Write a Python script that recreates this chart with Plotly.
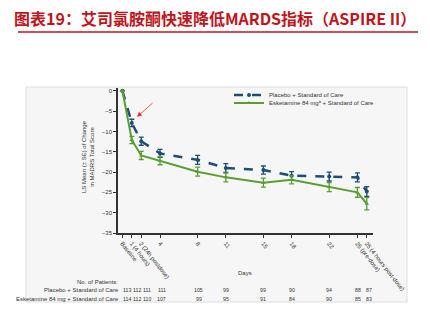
import plotly.graph_objects as go

# ---- data ----
day_pos = [0, 1, 2, 4, 8, 11, 15, 18, 22, 25, 26]
tick_labels = ["Baseline", "1 (4 hours)", "2 (24h postdose)", "4", "8", "11", "15", "18",
               "22", "25 (pre-dose)", "25 (4 hours post-dose)"]
placebo = [0, -7.9, -12.4, -15.4, -17.0, -19.0, -19.5, -20.9, -21.1, -21.3, -24.8]
placebo_se = [0, 0.9, 1.0, 1.0, 1.1, 1.1, 1.0, 1.0, 1.1, 1.1, 1.2]
esket = [0, -12.1, -15.9, -17.2, -19.9, -21.3, -22.6, -21.9, -23.7, -25.0, -27.8]
esket_se = [0, 0.9, 1.0, 1.0, 1.1, 1.1, 1.1, 1.0, 1.1, 1.2, 1.5]
n_placebo = [113, 112, 111, 111, 105, 99, 99, 90, 94, 88, 87]
n_esket = [114, 112, 110, 107, 99, 95, 91, 84, 90, 85, 83]
y_ticks = [0, -5, -10, -15, -20, -25, -30, -35]

title_text = "图表19：艾司氯胺酮快速降低MARDS指标（ASPIRE II）"
blue = "#1d4e79"
green = "#5a9e32"
red = "#c0151d"
txt = "#333333"
FONT = "Liberation Sans"

W, H = 430, 332
L, R, T, B = 118, 57, 88, 99
pw, ph = W - L - R, H - T - B


def px(x):
    return (x - L) / pw


def py(y):
    return (H - B - y) / ph


fig = go.Figure()
fig.add_trace(go.Scatter(
    x=day_pos, y=placebo, name="Placebo + Standard of Care", mode="lines+markers",
    line=dict(color=blue, width=2.5, dash="dash"),
    marker=dict(color=blue, size=4, symbol="circle"),
    error_y=dict(type="data", array=placebo_se, color=blue, thickness=1.3, width=2.5),
    legend="legend",
))
fig.add_trace(go.Scatter(
    x=day_pos, y=esket, name="Esketamine 84 mg\u1d43 + Standard of Care", mode="lines+markers",
    line=dict(color=green, width=2),
    marker=dict(color=green, size=4, symbol="triangle-up"),
    error_y=dict(type="data", array=esket_se, color=green, thickness=1.3, width=2.5),
    legend="legend2",
))

# panel background
fig.add_shape(type="rect", xref="paper", yref="paper", x0=px(26), x1=px(407),
              y0=py(302), y1=py(87), fillcolor="#f6f6f6",
              line=dict(color="#dedede", width=1), layer="below")
# title underline
fig.add_shape(type="line", xref="paper", yref="paper", x0=px(18), x1=px(418),
              y0=py(32), y1=py(32), line=dict(color=red, width=1.5))


def note(text, x, y, size=6, xanchor="center", **kw):
    return dict(text=text, xref="paper", yref="paper", x=px(x), y=py(y),
                xanchor=xanchor, yanchor="middle", showarrow=False,
                font=dict(family=FONT, size=size, color=txt), **kw)


ann = []
ann.append(dict(text="<b>" + title_text + "</b>", xref="paper", yref="paper",
                x=px(215), y=py(18), xanchor="center", yanchor="middle", showarrow=False,
                font=dict(family="Noto Sans CJK SC", size=16, color=red)))
ann.append(note("LS Mean (± SE) of Change<br>in MADRS Total Score", 88, 157, textangle=-90))
ann.append(note("Days", 245, 273))
ann.append(note("No. of Patients:", 97, 282))
ann.append(note("Placebo + Standard of Care", 121, 290, xanchor="right"))
ann.append(note("Esketamine 84 mg + Standard of Care", 121, 299, xanchor="right"))
shifts = [4.6, 5.2, 5.8, 1.5, 1, 0, 0, 0, 0, 1, 2]
for d, a, b, s in zip(day_pos, n_placebo, n_esket, shifts):
    for val, yy in ((a, 290), (b, 299)):
        ann.append(dict(text=str(val), x=d, xref="x", yref="paper", y=py(yy), xshift=s,
                        xanchor="center", yanchor="middle", showarrow=False,
                        font=dict(family=FONT, size=5.2, color=txt)))
# red arrow
ann.append(dict(text="", x=1.55, y=-6.4, xref="x", yref="y", showarrow=True,
                ax=17, ay=-15, arrowcolor="#e8332c", arrowwidth=0.8, arrowhead=2,
                arrowsize=1.2))

leg_common = dict(xanchor="left", yanchor="middle", bgcolor="rgba(0,0,0,0)",
                  font=dict(family=FONT, size=6, color=txt), itemwidth=30,
                  borderwidth=0)
fig.update_layout(
    width=W, height=H, margin=dict(l=L, r=R, t=T, b=B),
    paper_bgcolor="white", plot_bgcolor="rgba(0,0,0,0)",
    annotations=ann,
    showlegend=True,
    legend=dict(x=px(229), y=py(95), **leg_common),
    legend2=dict(x=px(229), y=py(103), **leg_common),
    xaxis=dict(range=[-0.47, 26.66], tickvals=day_pos, ticktext=tick_labels, tickangle=52,
               showgrid=False, zeroline=False, showline=True, linecolor=txt, linewidth=1.5,
               ticks="outside", ticklen=3, tickcolor=txt,
               tickfont=dict(family=FONT, size=6, color=txt), automargin=False),
    yaxis=dict(range=[-35, 0.7], tickvals=y_ticks, showgrid=False, zeroline=False,
               showline=True, linecolor=txt, linewidth=1.5, ticks="outside", ticklen=3,
               tickcolor=txt, tickfont=dict(family=FONT, size=6, color=txt),
               automargin=False),
)

fig.write_html("out.html")
